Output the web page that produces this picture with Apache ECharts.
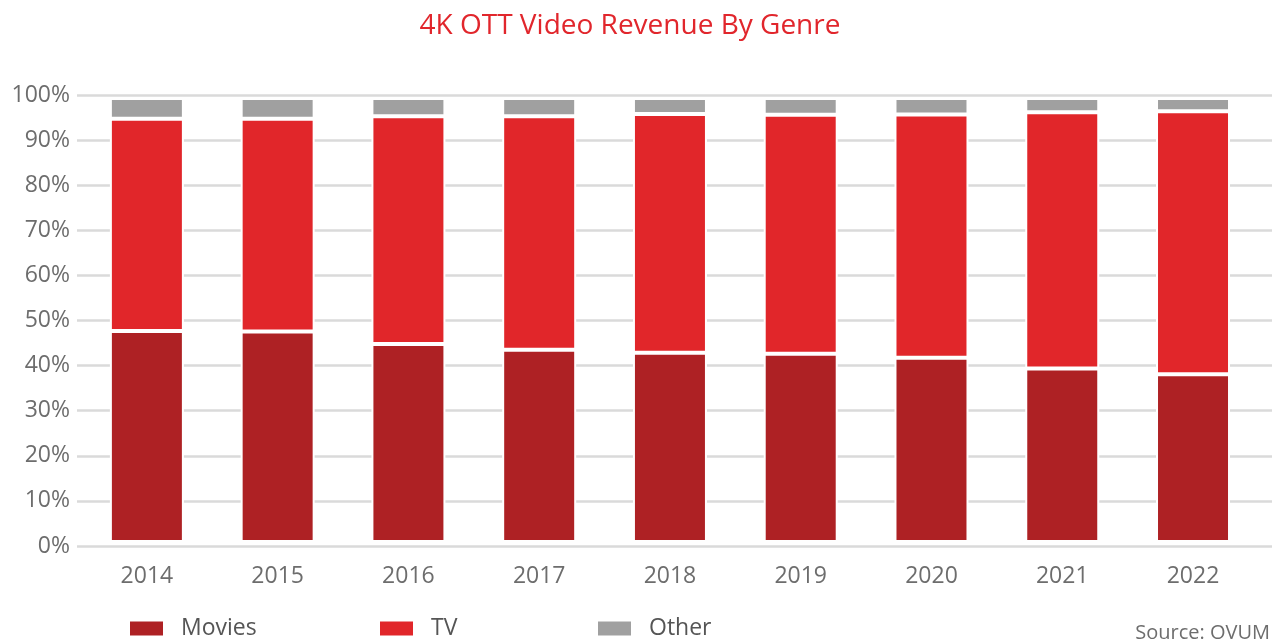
<!DOCTYPE html>
<html>
<head>
<meta charset="utf-8">
<script src="https://cdn.jsdelivr.net/npm/echarts@6/dist/echarts.min.js"></script>
<style>
html,body{margin:0;padding:0;background:#fff;}
#chart{width:1287px;height:640px;}
</style>
</head>
<body>
<div id="chart"></div>
<script>
const years = ['2014','2015','2016','2017','2018','2019','2020','2021','2022'];
const movies = [47.5, 47.4, 44.6, 43.3, 42.6, 42.4, 41.5, 39.1, 37.8];
const tv     = [47.8, 47.9, 51.3, 52.6, 53.8, 53.8, 54.8, 57.7, 59.2];
const other  = [4.7, 4.7, 4.1, 4.1, 3.6, 3.8, 3.7, 3.2, 3.0];
const seriesNames = ['Movies', 'TV', 'Other'];
const colors = ['#ae2124', '#e1262a', '#a0a0a0'];

const FONT = '"Open Sans", "Noto Sans", sans-serif';
const chart = echarts.init(document.getElementById('chart'), null, {renderer: 'canvas'});

function legendFor(i, left) {
  return {
    data: [seriesNames[i]],
    left: left,
    top: 617,
    padding: 0,
    icon: 'rect',
    itemWidth: 35,
    itemHeight: 16,
    selectedMode: false,
    textStyle: {fontFamily: FONT, fontSize: 23, color: '#555555', padding: [0, 0, 0, 12]}
  };
}

const option = {
  backgroundColor: '#ffffff',
  animation: false,
  graphic: [
    {type: 'text', x: 630, y: 26,
      style: {text: '4K OTT Video Revenue By Genre', fill: '#e1262c', font: '28px ' + FONT,
        textAlign: 'center', textVerticalAlign: 'middle'}},
    {type: 'text', x: 1270, y: 633,
      style: {text: 'Source: OVUM', fill: '#6d6d6d', font: '20px ' + FONT,
        textAlign: 'right', textVerticalAlign: 'middle'}}
  ],
  legend: [legendFor(0, 128), legendFor(1, 378), legendFor(2, 596)],
  grid: [
    {left: 77, right: 15, top: 95, bottom: 94},
    {left: 81.5, right: 28.6, top: 98, bottom: 98}
  ],
  xAxis: [
    {type: 'category', gridIndex: 0, data: years, show: false},
    {type: 'category', gridIndex: 1, data: years,
      axisLine: {show: false}, axisTick: {show: false},
      axisLabel: {fontFamily: FONT, fontSize: 23, color: '#6d6d6d', margin: 23}}
  ],
  yAxis: [
    {type: 'value', gridIndex: 0, min: 0, max: 100, interval: 10,
      axisLine: {show: false}, axisTick: {show: false},
      axisLabel: {formatter: '{value}%', fontFamily: FONT, fontSize: 23, color: '#6d6d6d', margin: 7},
      splitLine: {lineStyle: {color: '#dadada', width: 2.5}}},
    {type: 'value', gridIndex: 1, min: 0, max: 100, show: false}
  ],
  series: [movies, tv, other].map((d, i) => ({
    name: seriesNames[i],
    type: 'bar',
    xAxisIndex: 1,
    yAxisIndex: 1,
    stack: 'total',
    barWidth: 74,
    data: d,
    itemStyle: {color: colors[i], borderColor: '#ffffff', borderWidth: 2}
  }))
};
chart.setOption(option);
</script>
</body>
</html>
